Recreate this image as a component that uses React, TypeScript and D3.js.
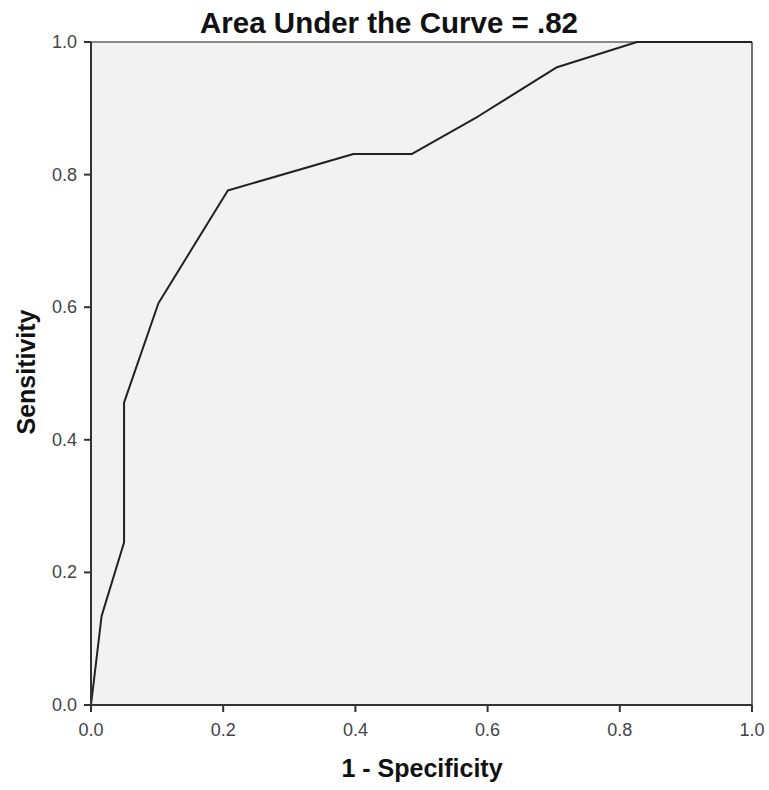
import * as d3 from 'd3';
import React from 'react';

// ROC curve points (1 - specificity, sensitivity)
const fpr = [0, 0.016, 0.05, 0.05, 0.102, 0.207, 0.397, 0.485, 0.586, 0.705, 0.826, 1.0];
const tpr = [0, 0.134, 0.245, 0.456, 0.606, 0.776, 0.831, 0.831, 0.888, 0.962, 1.0, 1.0];
const ticks = [0, 0.2, 0.4, 0.6, 0.8, 1.0];

const W = 769, H = 790;
const m = { left: 91, right: 17, top: 42, bottom: 85 };

export default function App() {
  const x = d3.scaleLinear().domain([0, 1]).range([m.left, W - m.right]);
  const y = d3.scaleLinear().domain([0, 1]).range([H - m.bottom, m.top]);

  const line = d3.line<number>()
    .x((d, i) => x(fpr[i]))
    .y((d) => y(d));

  const font = 'Liberation Sans, Arial, sans-serif';

  return (
    <svg width={W} height={H} style={{ position: 'absolute', left: 0, top: 0, background: '#fff' }}>
      <rect x={x(0)} y={y(1)} width={x(1) - x(0)} height={y(0) - y(1)} fill="#f2f2f2" />
      {/* frame */}
      <line x1={x(0)} x2={x(1)} y1={y(1)} y2={y(1)} stroke="#888" strokeWidth={2} />
      <line x1={x(1)} x2={x(1)} y1={y(1)} y2={y(0)} stroke="#444" strokeWidth={1.5} />
      <path d={line(tpr) || ''} fill="none" stroke="#222" strokeWidth={2} strokeLinejoin="round" />
      <line x1={x(0)} x2={x(1)} y1={y(0)} y2={y(0)} stroke="#333" strokeWidth={2} />
      <line x1={x(0)} x2={x(0)} y1={y(1)} y2={y(0)} stroke="#333" strokeWidth={2} />

      {ticks.map((t) => (
        <g key={'x' + t}>
          <line x1={x(t)} x2={x(t)} y1={y(0)} y2={y(0) + 7} stroke="#333" strokeWidth={2} />
          <text x={x(t)} y={y(0) + 31} textAnchor="middle" fontFamily={font} fontSize={18} fill="#444">
            {t.toFixed(1)}
          </text>
        </g>
      ))}
      {ticks.map((t) => (
        <g key={'y' + t}>
          <line x1={x(0) - 7} x2={x(0)} y1={y(t)} y2={y(t)} stroke="#333" strokeWidth={2} />
          <text x={x(0) - 14} y={y(t) + 6} textAnchor="end" fontFamily={font} fontSize={18} fill="#444">
            {t.toFixed(1)}
          </text>
        </g>
      ))}

      <text x={389} y={33} textAnchor="middle" fontFamily={font} fontSize={29.5} fontWeight="bold" fill="#111">
        Area Under the Curve = .82
      </text>
      <text x={422} y={777} textAnchor="middle" fontFamily={font} fontSize={25} fontWeight="bold" fill="#111">
        1 - Specificity
      </text>
      <text transform={`translate(35, ${372}) rotate(-90)`} textAnchor="middle" fontFamily={font} fontSize={25} fontWeight="bold" fill="#111">
        Sensitivity
      </text>
    </svg>
  );
}
